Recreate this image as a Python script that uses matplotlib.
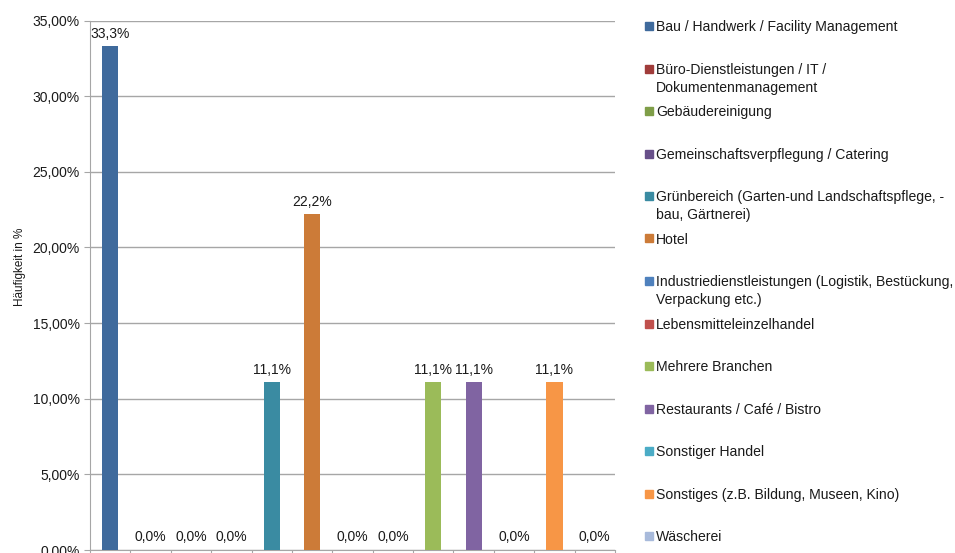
import matplotlib
matplotlib.use("Agg")
import matplotlib.pyplot as plt
from matplotlib.patches import Rectangle
from matplotlib.ticker import FuncFormatter, MultipleLocator

plt.rcParams['font.family'] = ['Liberation Sans', 'DejaVu Sans']

# --- data ---
categories = [
    'Bau / Handwerk / Facility Management',
    'Büro-Dienstleistungen / IT /\nDokumentenmanagement',
    'Gebäudereinigung',
    'Gemeinschaftsverpflegung / Catering',
    'Grünbereich (Garten-und Landschaftspflege, -\nbau, Gärtnerei)',
    'Hotel',
    'Industriedienstleistungen (Logistik, Bestückung,\nVerpackung etc.)',
    'Lebensmitteleinzelhandel',
    'Mehrere Branchen',
    'Restaurants / Café / Bistro',
    'Sonstiger Handel',
    'Sonstiges (z.B. Bildung, Museen, Kino)',
    'Wäscherei',
]
values = [33.3, 0.0, 0.0, 0.0, 11.1, 22.2, 0.0, 0.0, 11.1, 11.1, 0.0, 11.1, 0.0]
colors = ['#3f6a9c', '#a03c3a', '#7f9e48', '#674f89', '#3a8ba2', '#cc7b38',
          '#4f81bd', '#c0504d', '#9bbb59', '#8064a2', '#4bacc6', '#f79646',
          '#a8badb']

fig = plt.figure(figsize=(9.55, 5.53), dpi=100)
W, H = 955, 553
ax = fig.add_axes([90 / W, 3 / H, 525 / W, 529.5 / H])

x = list(range(len(values)))
ax.bar(x, values, width=0.4, color=colors, zorder=3)

# data labels
for xi, v in zip(x, values):
    ax.annotate(f'{v:.1f}%'.replace('.', ','), (xi, v), xytext=(0, 4),
                textcoords='offset points', ha='center', va='bottom',
                fontsize=10, color='#1a1a1a')

ax.set_xlim(-0.5, len(values) - 0.5)
ax.set_ylim(0, 35)
ax.yaxis.set_major_locator(MultipleLocator(5))
ax.yaxis.set_major_formatter(FuncFormatter(lambda v, p: f'{v:.2f}%'.replace('.', ',')))
ax.set_xticks([i - 0.5 for i in range(len(values) + 1)])
ax.set_xticklabels([])
ax.grid(axis='y', color='#a6a6a6', linewidth=1, zorder=0)

for s in ['top', 'right']:
    ax.spines[s].set_visible(False)
for s in ['left', 'bottom']:
    ax.spines[s].set_color('#a6a6a6')
ax.tick_params(axis='y', colors='#a6a6a6', labelcolor='#1a1a1a', labelsize=10, length=4)
ax.tick_params(axis='x', colors='#a6a6a6', length=5)

ax.set_ylabel('Häufigkeit in %', fontsize=8.5, color='#1a1a1a')
ax.yaxis.set_label_coords(-0.122, 0.534)

# legend, drawn by hand so that the marker sits on the first text line
y0, step = 26, 42.5
for i, (lab, c) in enumerate(zip(categories, colors)):
    yc = y0 + i * step
    fig.patches.append(Rectangle((645 / W, 1 - (yc + 4) / H), 8 / W, 8 / H,
                                 transform=fig.transFigure, color=c))
    fig.text(656 / W, 1 - (yc - 5.7) / H, lab, fontsize=10.1, color='#1a1a1a',
             va='top', ha='left', linespacing=1.35)

fig.savefig('out.png', dpi=100)
